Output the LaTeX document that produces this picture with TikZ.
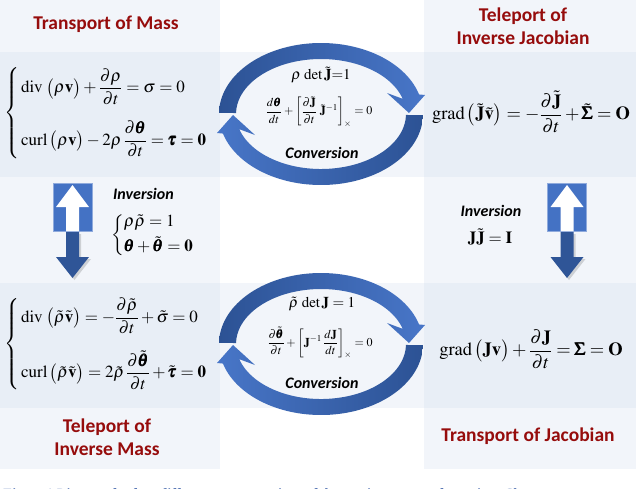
\documentclass[tikz,border=0pt]{standalone}
\usepackage{amsmath}
\usepackage{mathptmx}
\usepackage[no-math]{fontspec}
\setmainfont{Liberation Serif}
\newfontfamily\calib{Carlito}
\definecolor{panelc}{RGB}{205,218,238}
\definecolor{titlered}{RGB}{150,12,12}
\definecolor{bluea}{RGB}{68,114,196}
\definecolor{blueb}{RGB}{47,85,151}
\definecolor{arcdark}{RGB}{44,82,148}
\definecolor{arclight}{RGB}{72,118,200}
\definecolor{capblue}{RGB}{40,80,160}
\newcommand{\bth}{\pmb{\theta}}
\newcommand{\btau}{\pmb{\tau}}
\newcommand{\bSig}{\pmb{\Sigma}}
\begin{document}
\begin{tikzpicture}[x=1pt,y=-1pt,
  panel/.style={fill=panelc,fill opacity=0.25,draw=none},
  title/.style={font=\calib\bfseries\fontsize{19.5}{23}\selectfont,text=titlered,align=center,inner sep=0pt},
  eq/.style={font=\fontsize{17}{20}\selectfont,inner sep=0pt},
  eqr/.style={font=\fontsize{18.5}{21}\selectfont,inner sep=0pt},
  smalleq/.style={font=\fontsize{15}{17}\selectfont,inner sep=0pt},
  tinyeq/.style={font=\fontsize{12}{14}\selectfont,inner sep=0pt},
  lbl/.style={font=\calib\bfseries\itshape\fontsize{16}{18}\selectfont,inner sep=0pt},
  invpair/.pic={
    \fill[bluea,draw=bluea!60!white,line width=0.6pt] (-19.5,-47) rectangle (19.5,1);
    \fill[white] (0,-45) -- (16.5,-23) -- (6.5,-23) -- (6.5,1) -- (-6.5,1) -- (-6.5,-23) -- (-16.5,-23) -- cycle;
    \fill[black,opacity=0.15] (-4.5,4) -- (8.5,4) -- (8.5,29) -- (18.5,29) -- (2,50) -- (-14.5,29) -- (-4.5,29) -- cycle;
    \fill[blueb] (-6.5,2) -- (6.5,2) -- (6.5,27) -- (16.5,27) -- (0,48) -- (-16.5,27) -- (-6.5,27) -- cycle;
  },
  cyc/.pic={
    \shade[left color=arcdark, right color=arclight]
      (181:102 and 71) arc[start angle=181, end angle=344, x radius=102, y radius=71]
      -- (104,-19) -- (88,-1) -- (66,-21) -- (344:85 and 55)
      arc[start angle=344, end angle=181, x radius=85, y radius=55] -- cycle;
    \shade[left color=arclight, right color=arcdark]
      (1:102 and 71) arc[start angle=1, end angle=164, x radius=102, y radius=71]
      -- (-104,19) -- (-88,1) -- (-66,21) -- (164:85 and 55)
      arc[start angle=164, end angle=1, x radius=85, y radius=55] -- cycle;
  }
]
\useasboundingbox (0,0) rectangle (640,488);
\clip (0,0) rectangle (640,488);
\fill[white] (0,0) rectangle (640,488);
% panels
\fill[panel] (0,0) rectangle (220,469);
\fill[panel] (424,0) rectangle (636,469);
\fill[panel] (0,52) rectangle (636,177);
\fill[panel] (0,283) rectangle (636,408);
% titles
\node[title] (tm) at (106,24) {Transport of Mass};
\node[title] (tij) at (523,26) {Teleport of\\Inverse Jacobian};
\node[title] (tim) at (107,437) {Teleport of\\Inverse Mass};
\node[title] (tj) at (528,436) {Transport of Jacobian};
% equations
\node[eq,anchor=west] (eqtl) at (4,113) {$\left\{\begin{aligned}
 &\operatorname{div}\,\big(\rho\mathbf{v}\big)+\dfrac{\partial\rho}{\partial t}=\sigma=0\\[12pt]
 &\operatorname{curl}\big(\rho\mathbf{v}\big)-2\rho\,\dfrac{\partial\bth}{\partial t}=\btau=\mathbf{0}
 \end{aligned}\right.$};
\node[eqr] (eqtr) at (531,112) {$\operatorname{grad}\big(\tilde{\mathbf{J}}\tilde{\mathbf{v}}\big)=-\dfrac{\partial\tilde{\mathbf{J}}}{\partial t}+\tilde{\bSig}=\mathbf{O}$};
\node[eq,anchor=west] (eqbl) at (4,344) {$\left\{\begin{aligned}
 &\operatorname{div}\,\big(\tilde\rho\tilde{\mathbf{v}}\big)=-\dfrac{\partial\tilde\rho}{\partial t}+\tilde\sigma=0\\[13pt]
 &\operatorname{curl}\big(\tilde\rho\tilde{\mathbf{v}}\big)=2\tilde\rho\,\dfrac{\partial\tilde{\bth}}{\partial t}+\tilde{\btau}=\mathbf{0}
 \end{aligned}\right.$};
\node[eqr] (eqbr) at (531,349) {$\operatorname{grad}\big(\mathbf{J}\mathbf{v}\big)+\dfrac{\partial\mathbf{J}}{\partial t}=\bSig=\mathbf{O}$};
% inversion
\pic at (72.5,230) {invpair};
\pic at (567,230) {invpair};
\node[lbl,anchor=west] (invl) at (113,194) {Inversion};
\node[eq,anchor=west] (invle) at (111,235) {$\left\{\begin{aligned}&\rho\tilde\rho=1\\&\bth+\tilde{\bth}=\mathbf{0}\end{aligned}\right.$};
\node[lbl] (invr) at (491,211) {Inversion};
\node[eq] (invre) at (490,237) {$\mathbf{J}\tilde{\mathbf{J}}=\mathbf{I}$};
% conversion cycles
\pic at (321,114) {cyc};
\pic at (321,344) {cyc};
\node[smalleq] (c1a) at (321,75) {$\rho\,\det\tilde{\mathbf{J}}{=}1$};
\node[tinyeq] (c1b) at (319,112) {$\dfrac{d\bth}{dt}+\left[\dfrac{\partial\tilde{\mathbf{J}}}{\partial t}\;\tilde{\mathbf{J}}^{-1}\right]_{\times}=0$};
\node[lbl] (c1c) at (322,153) {Conversion};
\node[smalleq] (c2a) at (322,304) {$\tilde\rho\,\det\mathbf{J}=1$};
\node[tinyeq] (c2b) at (320,343) {$\dfrac{\partial\tilde{\bth}}{\partial t}+\left[\mathbf{J}^{-1}\,\dfrac{d\mathbf{J}}{dt}\right]_{\times}=0$};
\node[lbl] (c2c) at (322,383) {Conversion};
% caption (clipped)
\node[anchor=base west,font=\bfseries\itshape\fontsize{14}{16}\selectfont,text=capblue,inner sep=0pt] (cap) at (2,498.5) {Figure 1 Diagram for four different representations of the continuum transformation. Chapter};
\end{tikzpicture}
\end{document}
